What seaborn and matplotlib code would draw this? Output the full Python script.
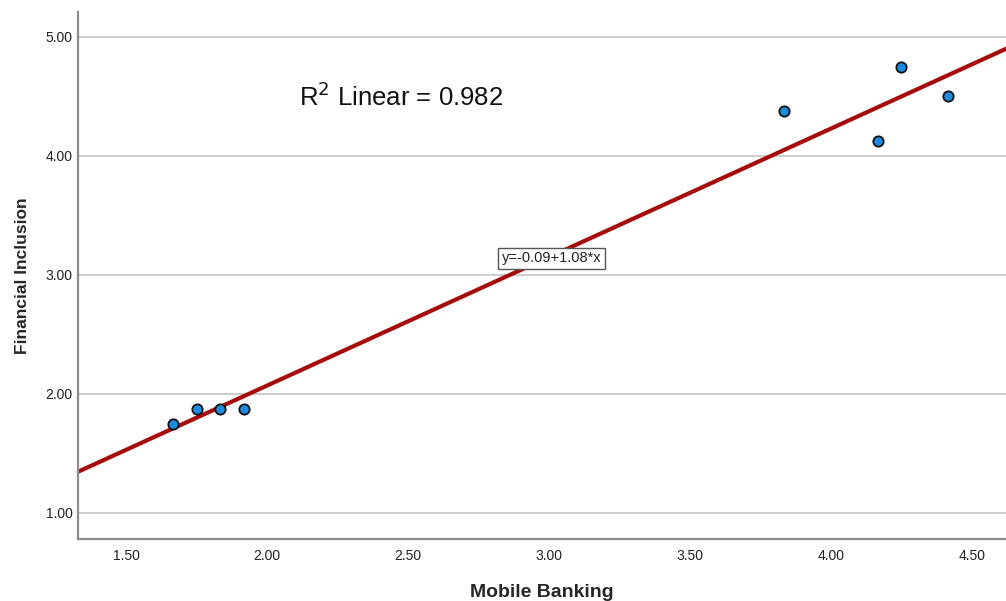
import numpy as np
import pandas as pd
import matplotlib
matplotlib.use("Agg")
import matplotlib.pyplot as plt
import seaborn as sns

# Scores per respondent group
mobile_banking = [1.667, 1.750, 1.833, 1.917, 3.833, 4.167, 4.250, 4.417]
financial_inclusion = [1.750, 1.875, 1.875, 1.875, 4.375, 4.125, 4.750, 4.500]

# Fitted linear model reported on the chart
intercept = -0.09
slope = 1.08
r_squared = 0.982

x_ticks = [1.5, 2.0, 2.5, 3.0, 3.5, 4.0, 4.5]
y_ticks = [1.0, 2.0, 3.0, 4.0, 5.0]
x_lim = (1.329, 4.621)
y_lim = (0.78, 5.21)

sns.set_theme(style="white")
plt.rcParams["font.family"] = ["Liberation Sans", "DejaVu Sans"]

df = pd.DataFrame({"Mobile Banking": mobile_banking,
                   "Financial Inclusion": financial_inclusion})

fig = plt.figure(figsize=(10.06, 6.01), dpi=100)
ax = fig.add_axes([78 / 1006, 62 / 601, 928 / 1006, 527 / 601])

ax.set_xlim(*x_lim)
ax.set_ylim(*y_lim)
ax.set_xticks(x_ticks)
ax.set_yticks(y_ticks)
ax.set_xticklabels([f"{v:.2f}" for v in x_ticks], fontsize=10, color="#222222")
ax.set_yticklabels([f"{v:.2f}" for v in y_ticks], fontsize=10, color="#222222")
ax.tick_params(axis="x", length=0, pad=7)
ax.tick_params(axis="y", length=0, pad=4)

ax.yaxis.grid(True, color="#c0c0c0", linewidth=1.1)
ax.xaxis.grid(False)
ax.set_axisbelow(True)

for side in ["top", "right"]:
    ax.spines[side].set_visible(False)
for side in ["left", "bottom"]:
    ax.spines[side].set_color("#8c8c8c")
    ax.spines[side].set_linewidth(1.6)

# Fit line across the full x-range
fx = np.array(x_lim)
fit = pd.DataFrame({"x": fx, "y": intercept + slope * fx})
sns.lineplot(data=fit, x="x", y="y", ax=ax, color="#a50d0d", linewidth=3.0,
             legend=False, zorder=2)

sns.scatterplot(data=df, x="Mobile Banking", y="Financial Inclusion", ax=ax,
                s=55, color="#1b8de0", edgecolor="#111111", linewidth=1.3,
                zorder=3)

ax.set_xlabel("Mobile Banking", fontsize=14, fontweight="bold", labelpad=15)
ax.set_ylabel("Financial Inclusion", fontsize=12.5, fontweight="bold", labelpad=11)

ax.text(2.114, 4.50, "R$^{2}$ Linear = " + f"{r_squared}", fontsize=18.5,
        ha="left", va="center", color="#111111")
ax.text(3.01, 3.14, f"y={intercept}+{slope}*x", fontsize=10.5,
        ha="center", va="center", color="#222222",
        bbox=dict(boxstyle="square,pad=0.25", facecolor="white",
                  edgecolor="#555555", linewidth=1.0), zorder=4)

fig.savefig("out.png", dpi=100)
